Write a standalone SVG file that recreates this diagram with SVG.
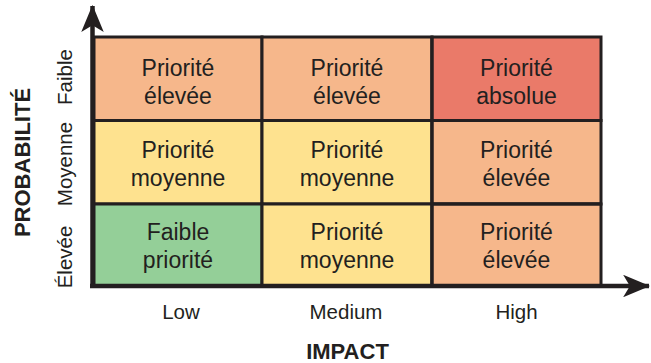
<svg xmlns="http://www.w3.org/2000/svg" width="651" height="363" viewBox="0 0 651 363">
  <style>
    .cell { stroke: #231f20; stroke-width: 3; }
    .high { fill: #f6b78b; }
    .top { fill: #ea7a69; }
    .mid { fill: #fee28f; }
    .low { fill: #94cf98; }
    .t { font-family: "Liberation Sans", Arial, sans-serif; font-size: 23px; fill: #231f20; text-anchor: middle; }
    .ax { font-family: "Liberation Sans", Arial, sans-serif; font-size: 20.5px; fill: #231f20; text-anchor: middle; }
    .title { font-family: "Liberation Sans", Arial, sans-serif; font-size: 22px; font-weight: bold; fill: #231f20; text-anchor: middle; }
    .axis { stroke: #231f20; stroke-width: 4.5; fill: none; }
  </style>
  <defs>
    <marker id="arrow" viewBox="0 0 12 10" refX="11.5" refY="5" markerWidth="6" markerHeight="5" markerUnits="strokeWidth" orient="auto">
      <path d="M0,0 L12,5 L0,10 L3,5 Z" fill="#231f20"/>
    </marker>
  </defs>

  <!-- Row 1: Faible -->
  <g id="cell-1-1"><rect class="cell high" x="94" y="37" width="168" height="83.5"/>
    <text class="t" x="178" y="76">Priorité</text><text class="t" x="178" y="104">élevée</text></g>
  <g id="cell-1-2"><rect class="cell high" x="262" y="37" width="170" height="83.5"/>
    <text class="t" x="347" y="76">Priorité</text><text class="t" x="347" y="104">élevée</text></g>
  <g id="cell-1-3"><rect class="cell top" x="432" y="37" width="169" height="83.5" stroke="none"/>
    <text class="t" x="516.5" y="76">Priorité</text><text class="t" x="516.5" y="104">absolue</text></g>

  <!-- Row 2: Moyenne -->
  <g id="cell-2-1"><rect class="cell mid" x="94" y="120.5" width="168" height="83.5"/>
    <text class="t" x="178" y="158">Priorité</text><text class="t" x="178" y="186">moyenne</text></g>
  <g id="cell-2-2"><rect class="cell mid" x="262" y="120.5" width="170" height="83.5"/>
    <text class="t" x="347" y="158">Priorité</text><text class="t" x="347" y="186">moyenne</text></g>
  <g id="cell-2-3"><rect class="cell high" x="432" y="120.5" width="169" height="83.5" stroke="none"/>
    <text class="t" x="516.5" y="158">Priorité</text><text class="t" x="516.5" y="186">élevée</text></g>

  <!-- Row 3: Élevée -->
  <g id="cell-3-1"><rect class="cell low" x="94" y="204" width="168" height="82"/>
    <text class="t" x="178" y="240">Faible</text><text class="t" x="178" y="268">priorité</text></g>
  <g id="cell-3-2"><rect class="cell mid" x="262" y="204" width="170" height="82"/>
    <text class="t" x="347" y="240">Priorité</text><text class="t" x="347" y="268">moyenne</text></g>
  <g id="cell-3-3"><rect class="cell high" x="432" y="204" width="169" height="82" stroke="none"/>
    <text class="t" x="516.5" y="240">Priorité</text><text class="t" x="516.5" y="268">élevée</text></g>

  <!-- inner grid lines for the right column -->
  <g id="grid" stroke="#231f20" stroke-width="3">
    <line x1="432" y1="120.5" x2="601" y2="120.5"/>
    <line x1="432" y1="204" x2="601" y2="204"/>
    <line x1="432" y1="37" x2="432" y2="286"/>
  </g>

  <!-- axes -->
  <g id="axes">
    <line class="axis" x1="92.5" y1="288" x2="92.5" y2="6" marker-end="url(#arrow)"/>
    <line class="axis" x1="90" y1="286" x2="649" y2="286" marker-end="url(#arrow)"/>
  </g>

  <!-- axis labels -->
  <g id="x-labels">
    <text class="ax" x="181" y="319">Low</text>
    <text class="ax" x="346" y="319">Medium</text>
    <text class="ax" x="516.5" y="319">High</text>
    <text class="title" x="347.5" y="359">IMPACT</text>
  </g>
  <g id="y-labels">
    <text class="ax" font-size="20" transform="translate(71.5,77) rotate(-90)">Faible</text>
    <text class="ax" font-size="20" transform="translate(71.5,164) rotate(-90)">Moyenne</text>
    <text class="ax" font-size="20" transform="translate(71.5,257) rotate(-90)">Élevée</text>
    <text class="title" transform="translate(29.5,162.5) rotate(-90)">PROBABILITÉ</text>
  </g>
</svg>
